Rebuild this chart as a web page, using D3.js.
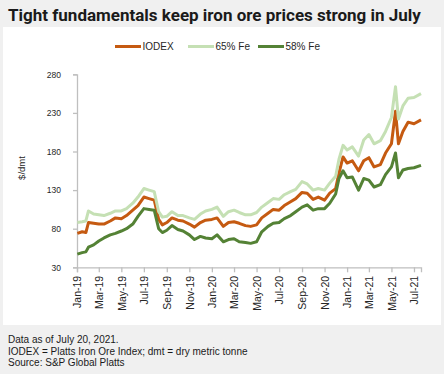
<!DOCTYPE html>
<html>

  <head>
    <meta charset="UTF-8" />
    <script src="https://d3js.org/d3.v7.min.js"></script>
    <title>Iron ore prices</title>
    <style>
      body { margin: 0; background: #f0f0f0; }
      svg { display: block; }
    </style>
  </head>

  <body>

    <div id="chart"></div>

    <script>
      // semi-monthly readings, $/dmt
      var dates = [
        "2019-01-02", "2019-01-15", "2019-01-25", "2019-02-01", "2019-02-15", "2019-03-01", "2019-03-15",
        "2019-04-01", "2019-04-15", "2019-05-01", "2019-05-15", "2019-06-01", "2019-06-15", "2019-07-01",
        "2019-07-15", "2019-07-29", "2019-08-10", "2019-08-20", "2019-09-01", "2019-09-15", "2019-10-01",
        "2019-10-15", "2019-11-01", "2019-11-15", "2019-12-01", "2019-12-15", "2020-01-01", "2020-01-15",
        "2020-02-01", "2020-02-15", "2020-03-01", "2020-03-15", "2020-04-01", "2020-04-15", "2020-05-01",
        "2020-05-15", "2020-06-01", "2020-06-15", "2020-07-01", "2020-07-15", "2020-08-01", "2020-08-15",
        "2020-09-01", "2020-09-15", "2020-10-01", "2020-10-15", "2020-11-01", "2020-11-15", "2020-12-01",
        "2020-12-10", "2020-12-21", "2021-01-01", "2021-01-15", "2021-02-01", "2021-02-15", "2021-03-01",
        "2021-03-15", "2021-04-01", "2021-04-15", "2021-05-01", "2021-05-12", "2021-05-20", "2021-06-01",
        "2021-06-15", "2021-07-01", "2021-07-20"
      ];

      var iodex = [
        74, 76, 75, 88, 87, 86, 86, 90, 94, 93, 97, 104, 110, 121,
        119, 117, 92, 85, 88, 94, 91, 90, 86, 82, 88, 91, 92, 94,
        83, 88, 89, 87, 84, 83, 85, 94, 100, 105, 104, 110, 115, 119,
        127, 126, 118, 121, 117, 126, 132, 152, 173, 165, 168, 155, 168, 172,
        160, 163, 178, 190, 232, 190, 206, 218, 216, 221
      ];

      var fe65 = [
        88, 89, 90, 103, 99, 98, 97, 100, 103, 103, 106, 113, 121, 132,
        130, 128, 102, 95, 96, 102, 97, 97, 94, 92, 99, 103, 105, 108,
        96, 102, 104, 101, 98, 98, 101, 108, 114, 119, 118, 124, 128, 131,
        141, 138, 130, 132, 130, 139, 148, 170, 188, 182, 186, 174, 195, 202,
        190, 194, 206, 224, 264, 222, 239, 249, 250, 255
      ];

      var fe58 = [
        47, 49, 50, 56, 59, 64, 68, 72, 74, 77, 80, 86, 96, 106,
        105, 104, 80, 75, 78, 84, 79, 77, 72, 66, 70, 68, 67, 72,
        63, 66, 67, 63, 62, 61, 63, 76, 83, 87, 88, 93, 97, 102,
        108, 111, 104, 106, 106, 113, 125, 145, 155, 146, 147, 130, 145, 143,
        134, 137, 150, 160, 178, 146, 156, 158, 159, 162
      ];

      var seriesNames = ["IODEX", "65% Fe", "58% Fe"];
      var seriesColors = ["#c55a11", "#c5e0b4", "#548235"];
      var yTicks = [30, 80, 130, 180, 230, 280];

      var parseDate = d3.timeParse("%Y-%m-%d");

      var series = [iodex, fe65, fe58].map(function(vals, i) {
        return {
          name: seriesNames[i],
          color: seriesColors[i],
          values: vals.map(function(v, j) {
            return { date: parseDate(dates[j]), value: v };
          })
        };
      });

      var svg = d3.select("#chart")
        .append("svg")
        .attr("width", 444)
        .attr("height", 374);

      // grey page, white plot card
      svg.append("rect")
        .attr("width", 444)
        .attr("height", 374)
        .attr("fill", "#f0f0f0");

      svg.append("rect")
        .attr("x", 3)
        .attr("y", 27)
        .attr("width", 438)
        .attr("height", 298)
        .attr("fill", "#ffffff");

      svg.append("text")
        .attr("x", 8)
        .attr("y", 21)
        .style("font-family", "Roboto, 'Liberation Sans', sans-serif")
        .style("font-weight", "bold")
        .style("font-size", "17px")
        .style("fill", "#1a1a1a")
        .text("Tight fundamentals keep iron ore prices strong in July");

      // scales
      var x = d3.scaleTime()
        .domain([parseDate("2019-01-01"), parseDate("2021-07-20")])
        .range([77, 421]);

      var y = d3.scaleLinear()
        .domain([30, 280])
        .range([267.3, 74.3]);

      // y axis
      var yAxis = svg.append("g")
        .attr("transform", "translate(77,0)")
        .call(d3.axisLeft(y).tickValues(yTicks).tickSize(4).tickPadding(12));

      yAxis.selectAll("text")
        .style("font-family", "'Liberation Sans', Arial, sans-serif")
        .style("font-size", "8.5px")
        .style("fill", "#262626");

      // x axis
      var xAxis = svg.append("g")
        .attr("transform", "translate(0,267.3)")
        .call(d3.axisBottom(x)
          .ticks(d3.timeMonth.every(2))
          .tickFormat(d3.timeFormat("%b-%y"))
          .tickSize(5));

      xAxis.selectAll("text")
        .attr("transform", "rotate(-90)")
        .attr("x", -8.5)
        .attr("y", 0)
        .attr("dy", "0.35em")
        .attr("text-anchor", "end")
        .style("font-family", "'Liberation Sans', Arial, sans-serif")
        .style("font-size", "10.5px")
        .style("fill", "#262626");

      svg.selectAll(".domain, .tick line")
        .attr("stroke", "#bfbfbf")
        .attr("stroke-width", 1.3);

      svg.append("text")
        .attr("transform", "translate(25,168)rotate(-90)")
        .attr("text-anchor", "middle")
        .style("font-family", "'Liberation Sans', Arial, sans-serif")
        .style("font-size", "9.5px")
        .style("fill", "#262626")
        .text("$/dmt");

      // lines
      var line = d3.line()
        .x(function(d) { return x(d.date); })
        .y(function(d) { return y(d.value); });

      svg.append("g")
        .selectAll("path")
        .data(series)
        .enter()
        .append("path")
        .attr("d", function(d) { return line(d.values); })
        .attr("fill", "none")
        .attr("stroke", function(d) { return d.color; })
        .attr("stroke-width", 3)
        .attr("stroke-linejoin", "round");

      // legend
      var legendX = [115, 188, 258];
      var legend = svg.append("g")
        .selectAll("g")
        .data(series)
        .enter()
        .append("g")
        .attr("transform", function(d, i) { return "translate(" + legendX[i] + ",46.5)"; });

      legend.append("line")
        .attr("x1", 0)
        .attr("x2", 26)
        .attr("stroke", function(d) { return d.color; })
        .attr("stroke-width", 3);

      legend.append("text")
        .attr("x", 27.5)
        .attr("dy", "0.35em")
        .style("font-family", "'Liberation Sans', Arial, sans-serif")
        .style("font-size", "10px")
        .style("fill", "#262626")
        .text(function(d) { return d.name; });

      // footnotes
      var notes = [
        "Data as of July 20, 2021.",
        "IODEX = Platts Iron Ore Index; dmt = dry metric tonne",
        "Source: S&P Global Platts"
      ];

      svg.append("g")
        .selectAll("text")
        .data(notes)
        .enter()
        .append("text")
        .attr("x", 8)
        .attr("y", function(d, i) { return 343 + i * 11.5; })
        .style("font-family", "'Liberation Sans', Arial, sans-serif")
        .style("font-size", "10px")
        .style("fill", "#1a1a1a")
        .text(function(d) { return d; });

    </script>
  </body>

</html>
